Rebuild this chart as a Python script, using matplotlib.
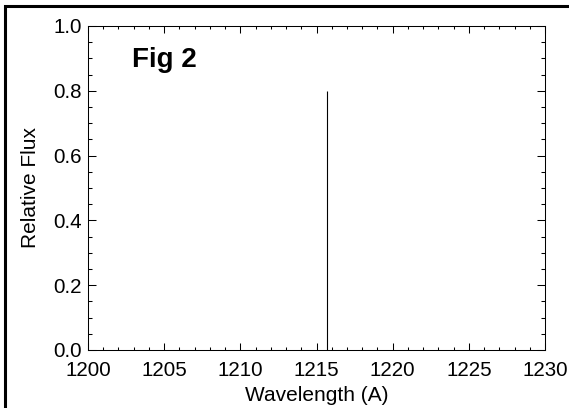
import matplotlib
matplotlib.use('Agg')
import matplotlib.pyplot as plt
from matplotlib.patches import Rectangle
from matplotlib.ticker import MultipleLocator

plt.rcParams['font.family'] = ['Liberation Sans', 'DejaVu Sans']

# Spectrum: a single emission line (Ly-alpha)
line_wave = [1215.67]
line_flux = [0.8]
x_ticks = [1200, 1205, 1210, 1215, 1220, 1225, 1230]
y_ticks = [0.0, 0.2, 0.4, 0.6, 0.8, 1.0]

fig = plt.figure(figsize=(5.69, 4.08), dpi=100)
ax = fig.add_axes([0.1547, 0.1422, 0.8031, 0.7941])

ax.vlines(line_wave, 0, line_flux, color='black', linewidth=0.8)

ax.set_xlim(1200, 1230)
ax.set_ylim(0, 1.0)
ax.set_xticks(x_ticks)
ax.set_yticks(y_ticks)
ax.set_yticklabels(['%.1f' % v for v in y_ticks])
ax.xaxis.set_minor_locator(MultipleLocator(1))
ax.yaxis.set_minor_locator(MultipleLocator(0.05))

ax.tick_params(which='both', direction='in', top=True, right=True,
               width=0.75, labelsize=14.8, colors='black')
ax.tick_params(axis='x', which='major', length=4.7, pad=8.0)
ax.tick_params(axis='x', which='minor', length=2.5)
ax.tick_params(axis='y', which='major', length=5.8, pad=4.3)
ax.tick_params(axis='y', which='minor', length=2.9)
for sp in ax.spines.values():
    sp.set_linewidth(0.75)

ax.set_xlabel('Wavelength (A)', fontsize=15, labelpad=4)
ax.set_ylabel('Relative Flux', fontsize=15, labelpad=10)

ax.text(1202.9, 0.874, 'Fig 2', fontsize=20, fontweight='bold',
        ha='left', va='baseline')

# frame around the whole figure (right/bottom edges fall off the image)
frame = Rectangle((5.3 / 569, -0.05), 1.2, 1.05 - 6.5 / 408,
                  transform=fig.transFigure, fill=False,
                  edgecolor='black', linewidth=2.2, clip_on=False)
fig.patches.append(frame)

fig.savefig('out.png', dpi=100)
